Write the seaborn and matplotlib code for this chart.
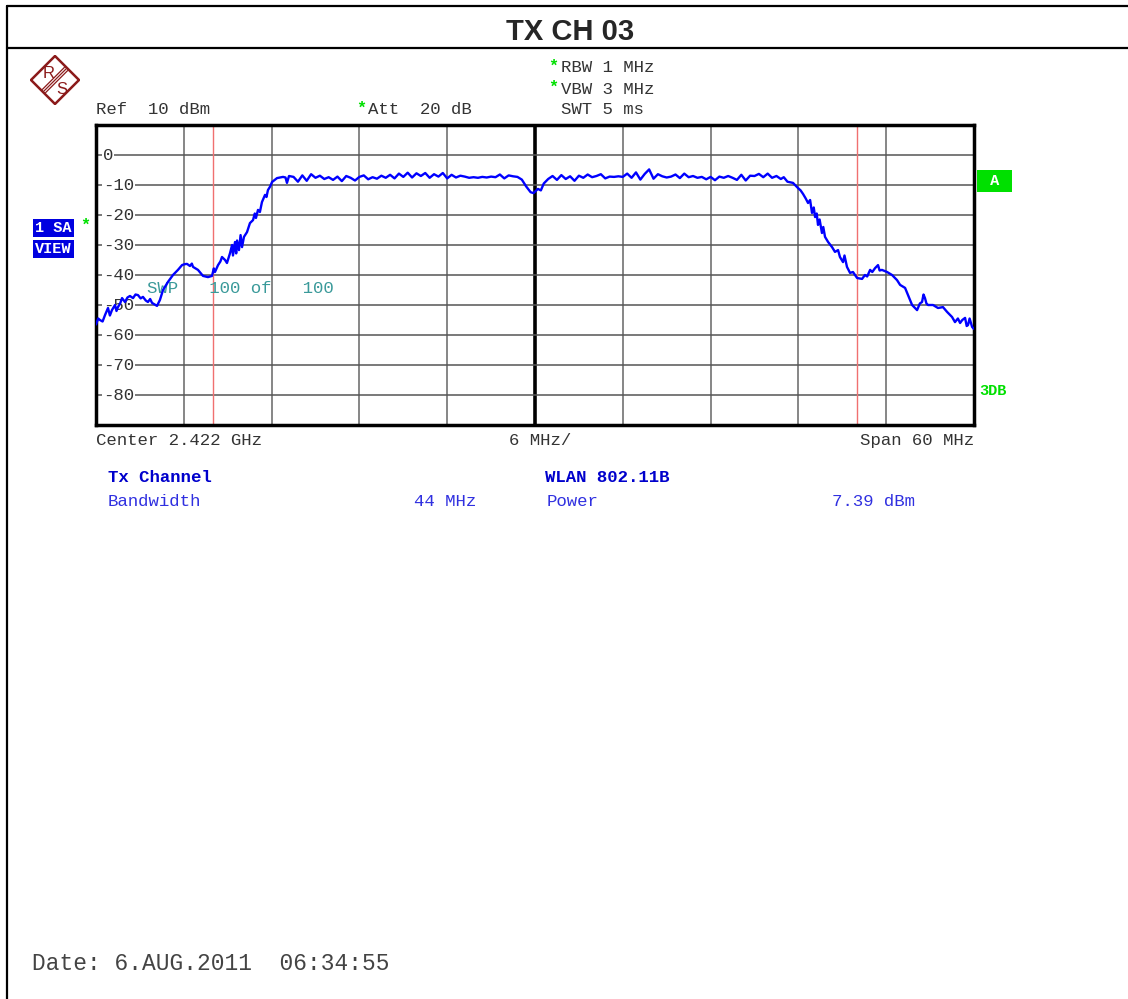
import numpy as np
import pandas as pd
import matplotlib
matplotlib.use("Agg")
import matplotlib.pyplot as plt
from matplotlib.lines import Line2D
from matplotlib.patches import Polygon
import seaborn as sns

freq_mhz = [
    -30.00, -29.85, -29.73, -29.55, -29.38, -29.18, -29.05, -28.91, -28.70, -28.60,
    -28.50, -28.35, -28.22, -28.02, -27.85, -27.68, -27.47, -27.30, -27.13, -26.95,
    -26.79, -26.60, -26.45, -26.30, -26.17, -26.00, -25.83, -25.63, -25.42, -25.08,
    -24.74, -24.40, -24.12, -23.95, -23.78, -23.58, -23.45, -23.37, -23.03, -22.69,
    -22.35, -22.07, -21.95, -21.87, -21.66, -21.50, -21.39, -21.18, -21.05, -20.84,
    -20.70, -20.64, -20.50, -20.42, -20.36, -20.23, -20.12, -20.02, -19.89, -19.68,
    -19.48, -19.27, -19.15, -19.07, -18.93, -18.80, -18.66, -18.45, -18.35, -18.25,
    -18.10, -17.97, -17.63, -17.22, -17.05, -16.95, -16.81,
    -16.5, -16.2, -15.9, -15.6, -15.3, -15.0, -14.7, -14.4, -14.1, -13.8,
    -13.5, -13.2, -12.9, -12.6, -12.3, -12.0, -11.7, -11.4, -11.1, -10.8,
    -10.5, -10.2, -9.9, -9.6, -9.3, -9.0, -8.7, -8.4, -8.1, -7.8,
    -7.5, -7.2, -6.9, -6.6, -6.3, -6.0, -5.7, -5.4, -5.1, -4.8,
    -4.5, -4.2, -3.9, -3.6, -3.3, -3.0, -2.7, -2.4, -2.1, -1.8,
    -1.5, -1.2, -0.9, -0.6, -0.3, -0.1, 0.2, 0.4, 0.6, 0.9,
    1.2, 1.5, 1.8, 2.1, 2.4, 2.7, 3.0, 3.3, 3.6, 3.9,
    4.2, 4.5, 4.8, 5.1, 5.4, 5.7, 6.0, 6.3, 6.6, 6.9,
    7.2, 7.5, 7.8, 8.1, 8.4, 8.7, 9.0, 9.3, 9.6, 9.9,
    10.2, 10.5, 10.8, 11.1, 11.4, 11.7, 12.0, 12.3, 12.6, 12.9,
    13.2, 13.5, 13.8, 14.1, 14.4, 14.7, 15.0, 15.3, 15.6, 15.9,
    16.2, 16.5, 16.8, 17.0, 17.25, 17.63,
    17.97, 18.15, 18.32, 18.50, 18.66, 18.80, 18.93, 19.05, 19.14, 19.25,
    19.34, 19.45, 19.61, 19.70, 19.82, 20.03, 20.30, 20.50, 20.71, 20.84,
    21.05, 21.15, 21.32, 21.53, 21.73, 22.01, 22.35, 22.55, 22.70, 22.90,
    23.05, 23.24, 23.44, 23.55, 23.71, 24.06, 24.40, 24.74, 24.95, 25.29,
    25.49, 25.77, 26.11, 26.30, 26.45, 26.55, 26.65, 26.75, 26.86, 27.20,
    27.54, 27.88, 28.16, 28.50, 28.70, 28.90, 29.05, 29.20, 29.39, 29.50,
    29.59, 29.70, 29.87, 30.00,
]
level_dbm = [
    -56.5, -54.5, -55.0, -55.5, -53.3, -51.0, -53.5, -51.7, -50.0, -52.0,
    -50.7, -49.5, -47.7, -49.0, -47.5, -47.0, -47.7, -46.5, -46.7, -47.8,
    -47.3, -48.5, -49.0, -48.0, -49.3, -49.8, -50.3, -48.3, -45.0, -42.3,
    -40.0, -38.3, -36.7, -36.4, -36.3, -37.0, -36.2, -37.3, -38.3, -40.3,
    -40.7, -40.3, -37.8, -39.0, -36.7, -35.5, -34.0, -35.0, -36.0, -32.7,
    -30.0, -33.5, -29.0, -32.8, -28.5, -31.7, -26.7, -30.7, -27.3, -25.7,
    -22.7, -21.7, -19.5, -21.0, -18.3, -19.0, -15.7, -13.3, -14.0, -11.7,
    -10.5, -9.0, -7.7, -7.3, -7.5, -9.3, -7.0,
    -7.3, -8.9, -6.8, -8.6, -6.4, -7.6, -6.9, -8.0, -7.4, -8.3,
    -7.2, -8.7, -7.0, -7.6, -8.5, -7.3, -6.8, -8.1, -7.4, -7.9,
    -6.9, -7.6, -6.6, -7.8, -6.2, -7.3, -5.9, -7.5, -6.1, -7.0,
    -6.0, -7.6, -6.4, -7.2, -6.0, -7.8, -6.6, -7.5, -6.9, -7.2,
    -7.6, -7.4, -7.6, -7.3, -7.5, -7.2, -7.4, -6.5, -7.8, -6.8,
    -7.1, -7.3, -8.2, -10.5, -12.4, -12.7, -11.3, -11.8, -9.5, -8.0,
    -7.0, -8.3, -6.7, -8.0, -7.1, -8.6, -6.9, -7.6, -6.5, -7.4,
    -7.0, -6.4, -7.8, -7.2, -7.3, -7.1, -7.3, -6.2, -7.6, -5.8,
    -8.2, -6.3, -4.8, -7.9, -6.4, -7.1, -7.5, -7.2, -6.5, -7.7,
    -6.2, -7.4, -7.0, -7.6, -7.3, -8.1, -7.3, -8.4, -7.2, -7.6,
    -7.0, -7.6, -8.3, -6.6, -8.5, -6.9, -7.0, -6.3, -7.4, -6.2,
    -7.6, -7.0, -8.0, -7.4, -8.9, -9.3,
    -11.0, -11.8, -13.0, -14.5, -16.0, -15.0, -19.3, -17.5, -20.7, -19.5,
    -23.3, -21.5, -26.0, -24.0, -27.3, -29.0, -30.7, -32.3, -31.7, -34.0,
    -35.7, -33.5, -37.3, -39.3, -39.0, -41.0, -41.3, -40.0, -40.5, -38.3,
    -39.0, -37.7, -36.7, -38.5, -38.3, -39.0, -40.0, -41.7, -43.3, -44.3,
    -46.7, -50.0, -51.7, -49.5, -49.0, -46.5, -47.7, -49.5, -50.0, -50.0,
    -51.0, -50.7, -52.3, -54.0, -55.7, -54.5, -56.0, -55.0, -54.3, -57.0,
    -56.7, -54.5, -57.3, -58.0,
]

ref_level = 10
level_ticks = [0, -10, -20, -30, -40, -50, -60, -70, -80]
span_mhz = 60
channel_bw_mhz = 44

title = "TX CH 03"
header_lines = ["RBW 1 MHz", "VBW 3 MHz"]
sweep_text = "SWP   100 of   100"
bottom_labels = ["Center 2.422 GHz", "6 MHz/", "Span 60 MHz"]
result_labels = ["Tx Channel", "WLAN 802.11B"]
result_values = [("Bandwidth", "44 MHz"), ("Power", "7.39 dBm")]
date_text = "Date: 6.AUG.2011  06:34:55"

W, H = 1128, 999
MONO = "Liberation Mono"
GREEN = "#00e000"
LOGO = "#8b1a1a"

sns.set_style("white")
plt.rcParams["font.family"] = ["Liberation Sans", "DejaVu Sans"]

fig = plt.figure(figsize=(W / 100, H / 100), dpi=100)


def fx(x):
    return x / W


def fy(y):
    return 1 - y / H


def ftext(x, y, s, **kw):
    kw.setdefault("family", MONO)
    kw.setdefault("fontsize", 12.5)
    kw.setdefault("va", "center")
    kw.setdefault("ha", "left")
    fig.text(fx(x), fy(y), s, **kw)


# page frame
for xs, ys in [((7, W), (6, 6)), ((7, 7), (6, H)), ((7, W), (48, 48))]:
    fig.add_artist(Line2D([fx(v) for v in xs], [fy(v) for v in ys],
                          color="black", lw=1.6))
ftext(570, 32, title, family="Liberation Sans", fontsize=21,
      fontweight="bold", ha="center")

# R&S logo
lax = fig.add_axes([fx(30), fy(105), fx(50), 50 / H])
lax.set_xlim(0, 50)
lax.set_ylim(50, 0)
lax.axis("off")
lax.add_patch(Polygon([(25, 1), (49, 25), (25, 49), (1, 25)], closed=True,
                      fill=False, ec=LOGO, lw=1.8))
for d in (-1.6, 0, 1.6):
    lax.plot([36 + d, 14 + d], [14 + d, 36 + d], color=LOGO, lw=0.9)
lax.text(19, 18, "R", color=LOGO, fontsize=12, ha="center", va="center")
lax.text(32, 34, "S", color=LOGO, fontsize=12, ha="center", va="center")

# instrument settings
for i, s in enumerate(header_lines):
    ftext(548, 66 + 21 * i, "*", color=GREEN, fontsize=12, fontweight="bold")
    ftext(561, 68 + 21 * i, s, color="#333333")
ftext(561, 110, "SWT 5 ms", color="#333333")
ftext(96, 110, "Ref  10 dBm", color="#333333")
ftext(356, 108, "*", color=GREEN, fontsize=12, fontweight="bold")
ftext(368, 110, "Att  20 dB", color="#333333")

ftext(35, 228, "1 SA", color="white", fontweight="bold", fontsize=11,
      bbox=dict(facecolor="#0000e0", edgecolor="none", pad=1.5))
ftext(35, 249, "VIEW", color="white", fontweight="bold", fontsize=11,
      bbox=dict(facecolor="#0000e0", edgecolor="none", pad=1.5))
ftext(80, 225, "*", color=GREEN, fontsize=12, fontweight="bold")
ftext(981, 181, " A ", color="white", fontweight="bold", fontsize=11,
      bbox=dict(facecolor=GREEN, edgecolor="none", pad=2.5))
ftext(979, 391, "3DB", color=GREEN, fontweight="bold", fontsize=11)

# spectrum axes
ax = fig.add_axes([fx(96), fy(425), fx(974) - fx(96), 300 / H])
half = span_mhz / 2
ax.set_xlim(-half, half)
ax.set_ylim(ref_level - 100, ref_level)
ax.set_xticks([])
ax.set_yticks([])
for sp in ax.spines.values():
    sp.set_color("black")
    sp.set_linewidth(2.5)

for k in range(1, 10):
    x = -half + k * span_mhz / 10
    if k == 5:
        ax.axvline(x, color="black", lw=2.6, zorder=1)
    else:
        ax.axvline(x, color="#666666", lw=1.1, zorder=1)
for v in level_ticks:
    ax.axhline(v, color="#555555", lw=1.1, zorder=1)
    ax.text(0.008, v, f"{v}", transform=ax.get_yaxis_transform(),
            family=MONO, fontsize=12.5, color="#333333", va="center",
            ha="left", zorder=2,
            bbox=dict(facecolor="white", edgecolor="none", pad=0.5))

for x in (-channel_bw_mhz / 2, channel_bw_mhz / 2):
    ax.axvline(x, color="#f07070", lw=1.0, zorder=1.5)

ax.text(-26.5, -44.5, sweep_text, family=MONO, fontsize=12.5,
        color="#3a9a9a", va="center", ha="left", zorder=2)

trace = pd.DataFrame({"freq": freq_mhz, "level": level_dbm})
sns.lineplot(data=trace, x="freq", y="level", ax=ax, color="#0000ff",
             lw=1.7, sort=False, estimator=None, zorder=3)
ax.set_xlabel("")
ax.set_ylabel("")

# bottom annotations
ftext(96, 441, bottom_labels[0], color="#333333")
ftext(540, 441, bottom_labels[1], color="#333333", ha="center")
ftext(974, 441, bottom_labels[2], color="#333333", ha="right")

ftext(108, 478, result_labels[0], color="#0000cc", fontweight="bold")
ftext(545, 478, result_labels[1], color="#0000cc", fontweight="bold")
ftext(108, 501, result_values[0][0], color="#3030e0")
ftext(476, 501, result_values[0][1], color="#3030e0", ha="right")
ftext(547, 501, result_values[1][0], color="#3030e0")
ftext(915, 501, result_values[1][1], color="#3030e0", ha="right")

ftext(32, 964, date_text, color="#444444", fontsize=16.5)

fig.savefig("out.png", dpi=100)
